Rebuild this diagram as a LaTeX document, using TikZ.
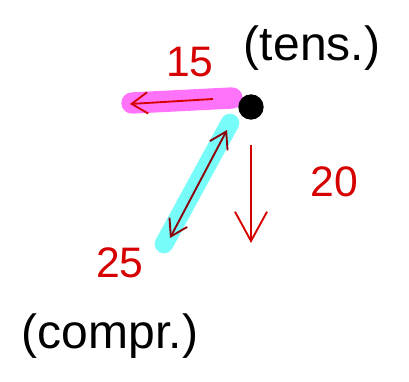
\documentclass[tikz,border=0pt]{standalone}
\usepackage{fontspec}
\setmainfont{Liberation Sans}
\usetikzlibrary{arrows.meta}
\definecolor{inkred}{RGB}{215,0,0}
\definecolor{darkink}{RGB}{140,0,10}
\definecolor{hlmag}{RGB}{255,115,250}
\definecolor{hlcyan}{RGB}{120,252,250}
\tikzset{
  hlm/.style={line width=16pt, line cap=round},
  hlc/.style={line width=14pt, line cap=round},
  force/.style={inkred, line width=1.4pt, -{Straight Barb[length=12pt,width=16pt]}},
  bigforce/.style={inkred, line width=1.4pt, -{Straight Barb[length=22pt,width=24pt]}},
  lbl/.style={inkred, font=\fontsize{32}{32}\selectfont},
  note/.style={black, font=\fontsize{36}{36}\selectfont},
}
\begin{document}
\begin{tikzpicture}[x=0.75pt,y=-0.75pt]
\useasboundingbox (0,0) rectangle (409,381);
% coordinates
\coordinate (m1) at (232,98);
\coordinate (m2) at (132,103);
\coordinate (c1) at (230,123);
\coordinate (c2) at (164,244);
\coordinate (a1) at (213,99);
\coordinate (a2) at (130,104);
\coordinate (b1) at (170,238);
\coordinate (b2) at (227,130);
\coordinate (d1) at (251,145);
\coordinate (d2) at (251,243);
% highlights
\draw[hlm, hlmag] (m1) -- (m2);
\draw[hlc, hlcyan] (c1) -- (c2);
% joint
\node[circle, fill=black, minimum size=19pt, inner sep=0pt] (J) at (251,107) {};
% arrows
\draw[force] (a1) -- (a2);
\draw[darkink, line width=1.4pt, {Straight Barb[length=12pt,width=15pt]}-{Straight Barb[length=12pt,width=15pt]}] (b1) -- (b2);
\draw[bigforce] (d1) -- (d2);
% labels
\node[lbl] (l15) at (190,62) {15};
\node[lbl] (l20) at (334,182) {20};
\node[lbl] (l25) at (120,263) {25};
\node[note] (tens) at (312,48) {(tens.)};
\node[note] (compr) at (110,336) {(compr.)};
\end{tikzpicture}
\end{document}
